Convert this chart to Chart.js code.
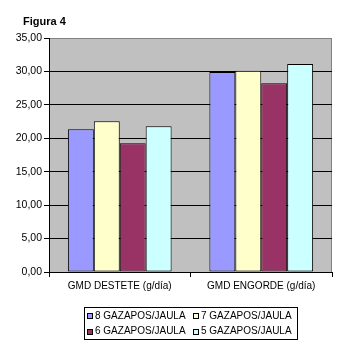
<!DOCTYPE html>
<html>
<head>
<meta charset="utf-8">
<script src="https://cdn.jsdelivr.net/npm/chart.js@4.4.1/dist/chart.umd.min.js"></script>
<style>
  html, body { margin: 0; padding: 0; }
  #wrap { position: relative; width: 337px; height: 352px; }
  #plotbg { position: absolute; background: #C0C0C0; box-sizing: border-box; border-right: 1px solid #808080; z-index: 0; }
  #chart { position: relative; display: block; z-index: 1; }
  #overlay { position: absolute; left: 0; top: 0; width: 337px; height: 352px; z-index: 2; pointer-events: none; }
</style>
</head>
<body>
<div id="wrap">
  <div id="plotbg"></div>
  <canvas id="chart" width="337" height="352"></canvas>
  <div id="overlay"></div>
</div>
<script>
// Average daily gain (g/day) by number of young rabbits per cage
const categories = ['GMD DESTETE (g/día)', 'GMD ENGORDE (g/día)'];
const seriesNames = ['8 GAZAPOS/JAULA', '7 GAZAPOS/JAULA', '6 GAZAPOS/JAULA', '5 GAZAPOS/JAULA'];
const gazapos8 = [21.35, 29.90];
const gazapos7 = [22.55, 30.10];
const gazapos6 = [19.25, 28.25];
const gazapos5 = [21.80, 31.10];
const yTicks = [0, 5, 10, 15, 20, 25, 30, 35];
const titleText = 'Figura 4';

const seriesValues = [gazapos8, gazapos7, gazapos6, gazapos5];
const seriesColors = ['#9999FF', '#FFFFCC', '#993366', '#CCFFFF'];

const FONT = 'Liberation Sans, Arial, sans-serif';

// Title text in the top-left corner
const titlePlugin = {
  id: 'figTitle',
  afterDraw(chart) {
    const ctx = chart.ctx;
    ctx.save();
    ctx.fillStyle = '#000';
    ctx.font = 'bold 11px ' + FONT;
    ctx.textBaseline = 'alphabetic';
    ctx.textAlign = 'left';
    ctx.fillText(titleText, 23, 25);
    ctx.restore();
  }
};

// Boxed two-column legend below the category labels
const boxLegendPlugin = {
  id: 'boxLegend',
  afterDraw(chart) {
    const { ctx, chartArea: a } = chart;
    const ds = chart.data.datasets;
    ctx.save();
    ctx.font = '10px ' + FONT;
    let maxText = 0;
    ds.forEach(d => { maxText = Math.max(maxText, ctx.measureText(d.label).width); });
    const marker = 6, gap = 2, colGap = 7, padL = 3, padR = 6;
    const itemW = marker + gap + maxText;
    const boxW = Math.round(padL + itemW * 2 + colGap + padR);
    const boxH = 32;
    const cx = (a.left + a.right) / 2;
    const bx = Math.round(cx - boxW / 2);
    const by = 307;
    ctx.fillStyle = '#000000';
    ctx.fillRect(bx, by, boxW + 1, boxH + 1);
    ctx.fillStyle = '#ffffff';
    ctx.fillRect(bx + 1, by + 1, boxW - 1, boxH - 1);
    const rowY = [by + 9, by + 24.5];
    ds.forEach((d, i) => {
      const col = i % 2, row = Math.floor(i / 2);
      const x = Math.round(bx + padL + col * (itemW + colGap));
      const my = Math.round(rowY[row] - marker / 2);
      ctx.fillStyle = '#000000';
      ctx.fillRect(x, my, marker, marker);
      ctx.fillStyle = d.backgroundColor;
      ctx.fillRect(x + 1, my + 1, marker - 2, marker - 2);
      ctx.fillStyle = '#000000';
      ctx.textBaseline = 'middle';
      ctx.textAlign = 'left';
      ctx.fillText(d.label, x + marker + gap, rowY[row]);
    });
    ctx.restore();
  }
};

const chart = new Chart(document.getElementById('chart'), {
  type: 'bar',
  data: {
    labels: categories,
    datasets: seriesNames.map((name, i) => ({
      label: name,
      data: seriesValues[i],
      backgroundColor: seriesColors[i],
      borderColor: '#000000',
      borderWidth: 1,
      borderSkipped: false,
      categoryPercentage: 0.733,
      barPercentage: 1
    }))
  },
  options: {
    responsive: false,
    animation: false,
    devicePixelRatio: 1,
    layout: { padding: { left: 0, right: 5, top: 38, bottom: 0 } },
    plugins: {
      legend: { display: false },
      tooltip: { enabled: false }
    },
    scales: {
      x: {
        afterFit(s) { s.height = 80; },
        grid: { offset: true, drawOnChartArea: false, tickLength: 5, tickColor: '#000000' },
        border: { color: '#000000' },
        ticks: { color: '#000000', font: { family: FONT, size: 10 }, padding: 3, maxRotation: 0 }
      },
      y: {
        min: 0,
        max: 35,
        afterFit(s) { s.width = 49; },
        afterBuildTicks(s) { s.ticks = yTicks.map(v => ({ value: v })); },
        grid: {
          drawOnChartArea: true,
          color: c => (c.tick && c.tick.value === 35 ? '#808080' : '#000000'),
          lineWidth: 1,
          tickLength: 5,
          tickColor: '#000000'
        },
        border: { color: '#000000' },
        ticks: {
          color: '#000000',
          font: { family: FONT, size: 10.5 },
          padding: 2,
          callback: v => Number(v).toFixed(2).replace('.', ',')
        }
      }
    }
  },
  plugins: [titlePlugin, boxLegendPlugin]
});

// Grey plot-area panel placed behind the transparent canvas
const a = chart.chartArea;
const bg = document.getElementById('plotbg');
bg.style.left = Math.round(a.left) + 'px';
bg.style.top = Math.round(a.top) + 'px';
bg.style.width = Math.round(a.right - a.left) + 'px';
bg.style.height = Math.round(a.bottom - a.top) + 'px';
</script>
</body>
</html>
